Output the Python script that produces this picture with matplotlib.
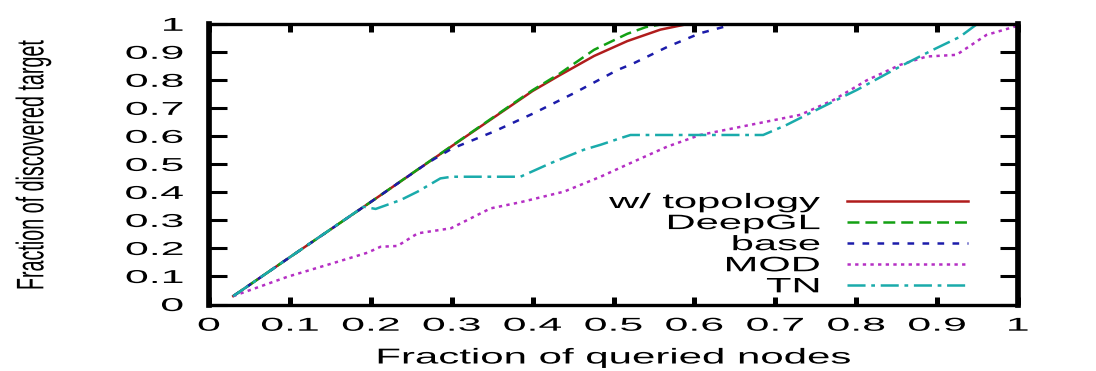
import matplotlib
matplotlib.use("Agg")
import matplotlib.pyplot as plt
from matplotlib.patheffects import AbstractPathEffect
from matplotlib.transforms import Affine2D

# ---------------- data ----------------
series_labels = ["w/ topology", "DeepGL", "base", "MOD", "TN"]

x_topology = [0.03, 0.10, 0.20, 0.30, 0.40, 0.434, 0.476, 0.517, 0.558, 0.59, 1.0]
y_topology = [0.03, 0.169, 0.366, 0.565, 0.762, 0.819, 0.887, 0.94, 0.981, 1.0, 1.0]

x_deepgl = [0.03, 0.10, 0.20, 0.30, 0.40, 0.434, 0.476, 0.517, 0.54, 0.56, 1.0]
y_deepgl = [0.03, 0.169, 0.366, 0.566, 0.765, 0.825, 0.909, 0.966, 0.99, 1.0, 1.0]

x_base = [0.03, 0.10, 0.20, 0.27, 0.30, 0.352, 0.401, 0.451, 0.505, 0.525, 0.567, 0.607, 0.648, 1.0]
y_base = [0.03, 0.169, 0.366, 0.505, 0.556, 0.617, 0.682, 0.754, 0.837, 0.861, 0.92, 0.968, 1.0, 1.0]

x_mod = [0.03, 0.097, 0.155, 0.196, 0.212, 0.233, 0.258, 0.299, 0.348, 0.385, 0.439, 0.484,
         0.525, 0.566, 0.607, 0.669, 0.731, 0.772, 0.813, 0.854, 0.887, 0.924, 0.961, 1.0]
y_mod = [0.03, 0.099, 0.149, 0.185, 0.206, 0.209, 0.254, 0.272, 0.343, 0.365, 0.403, 0.456,
         0.51, 0.563, 0.605, 0.641, 0.677, 0.73, 0.80, 0.855, 0.885, 0.891, 0.962, 0.995]

x_tn = [0.03, 0.10, 0.191, 0.206, 0.237, 0.258, 0.286, 0.30, 0.385, 0.422, 0.463, 0.484, 0.509,
        0.521, 0.685, 0.714, 0.747, 0.801, 0.854, 0.895, 0.928, 0.949, 1.0]
y_tn = [0.03, 0.169, 0.349, 0.341, 0.373, 0.403, 0.45, 0.456, 0.456, 0.504, 0.552, 0.57, 0.594,
        0.605, 0.605, 0.641, 0.689, 0.766, 0.849, 0.909, 0.955, 1.0, 1.0]

tick_values = [0.0, 0.1, 0.2, 0.3, 0.4, 0.5, 0.6, 0.7, 0.8, 0.9, 1.0]
tick_labels = ["0", "0.1", "0.2", "0.3", "0.4", "0.5", "0.6", "0.7", "0.8", "0.9", "1"]

x_label = "Fraction of queried nodes"
y_label = "Fraction of discovered target"

# ---------------- style ----------------
colors = ["#b01c1c", "#13a013", "#1c1caa", "#b52fc4", "#1aabab"]
dashes = [None, (8.6, 4.3), (4.8, 6.0), (2.4, 3.1), (13.0, 4.1, 2.7, 4.1)]

plt.rcParams["font.family"] = ["Liberation Sans", "DejaVu Sans"]
plt.rcParams["lines.scale_dashes"] = False


class Stretch(AbstractPathEffect):
    """Horizontally stretch drawn text about an anchor of its ink box."""

    def __init__(self, sx, anchor="center"):
        super().__init__()
        self._sx = sx
        self._anchor = anchor

    def draw_path(self, renderer, gc, tpath, affine, rgbFace=None):
        ext = tpath.get_extents(affine)
        if self._anchor == "right":
            cx = ext.x1
        elif self._anchor == "left":
            cx = ext.x0
        else:
            cx = 0.5 * (ext.x0 + ext.x1)
        aff = affine + Affine2D().translate(-cx, 0).scale(self._sx, 1).translate(cx, 0)
        renderer.draw_path(gc, tpath, aff, rgbFace)


W, H = 1096, 371
fig = plt.figure(figsize=(W / 100, H / 100), dpi=100)
ax = fig.add_axes([209 / W, (H - 304.5) / H, 809 / W, 280.2 / H])

xs = [x_topology, x_deepgl, x_base, x_mod, x_tn]
ys = [y_topology, y_deepgl, y_base, y_mod, y_tn]
for xv, yv, lab, c, d in zip(xs, ys, series_labels, colors, dashes):
    line, = ax.plot(xv, yv, color=c, lw=1.8, label=lab)
    if d is not None:
        line.set_dashes(d)

ax.set_xlim(0, 1)
ax.set_ylim(0, 1)
ax.set_xticks(tick_values)
ax.set_xticklabels(tick_labels)
ax.set_yticks(tick_values)
ax.set_yticklabels(tick_labels)

ax.tick_params(axis="x", direction="in", length=5.5, width=3.6, pad=9.5,
               labelsize=13.4, top=True, bottom=True)
ax.tick_params(axis="y", direction="in", length=13, width=2.2, pad=18.5,
               labelsize=13.4, left=True, right=True)

for side in ("left", "right"):
    ax.spines[side].set_linewidth(4.1)
for side in ("top", "bottom"):
    ax.spines[side].set_linewidth(2.4)

ax.set_xlabel(x_label, fontsize=15.5, va="center", ha="center")
ax.xaxis.set_label_coords(0.5, (13 - 66.5) / 280.2)
ax.set_ylabel(y_label, fontsize=14.2, va="center", ha="center")
ax.yaxis.set_label_coords((33 - 209) / 809, 0.5)

leg = ax.legend(loc="upper right", bbox_to_anchor=(968 / W, 1 - 193 / H),
                bbox_transform=fig.transFigure, frameon=False, markerfirst=False,
                handlelength=5.8, handletextpad=1.3, labelspacing=0.1,
                borderpad=0, borderaxespad=0, fontsize=15)

# apply horizontal stretching of text (reference looks horizontally stretched)
for t in ax.get_xticklabels():
    t.set_path_effects([Stretch(2.3, "center")])
for t in ax.get_yticklabels():
    t.set_path_effects([Stretch(2.3, "right")])
ax.xaxis.label.set_path_effects([Stretch(1.95, "center")])
ax.yaxis.label.set_path_effects([Stretch(1.95, "center")])
for t in leg.get_texts():
    t.set_path_effects([Stretch(2.0, "right")])

fig.savefig("out.png", dpi=100)
